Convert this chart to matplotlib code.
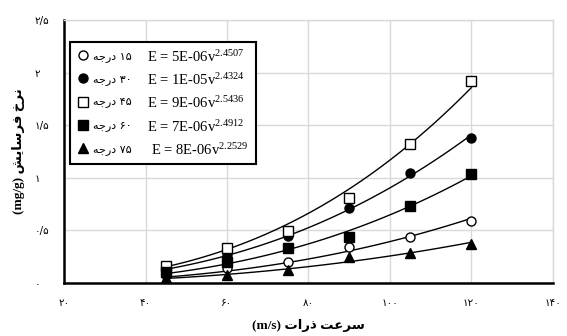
import re
import numpy as np
import matplotlib
matplotlib.use('agg')
import matplotlib.pyplot as plt
from matplotlib.lines import Line2D
from matplotlib.patches import Rectangle

## Data
speed = [45, 60, 75, 90, 105, 120]
rate_15 = [0.08, 0.14, 0.20, 0.34, 0.44, 0.59]
rate_30 = [0.12, 0.27, 0.45, 0.71, 1.05, 1.38]
rate_45 = [0.16, 0.33, 0.49, 0.81, 1.32, 1.92]
rate_60 = [0.10, 0.20, 0.33, 0.44, 0.73, 1.04]
rate_75 = [0.05, 0.08, 0.12, 0.25, 0.28, 0.37]

angles = ['۱۵', '۳۰', '۴۵', '۶۰', '۷۵']
coef_text = ['5E-06', '1E-05', '9E-06', '7E-06', '8E-06']
exponents = [2.4507, 2.4324, 2.5436, 2.4912, 2.2529]

x_ticks = [20, 40, 60, 80, 100, 120, 140]
x_labels = ['۲۰', '۴۰', '۶۰', '۸۰', '۱۰۰', '۱۲۰', '۱۴۰']
y_ticks = [0, 0.5, 1, 1.5, 2, 2.5]
y_labels = ['۰', '۰/۵', '۱', '۱/۵', '۲', '۲/۵']

x_title = 'سرعت ذرات (m/s)'
y_title = 'نرخ فرسایش (mg/g)'
deg_word = 'درجه'

"""
Tiny Persian shaper: presentation forms + right-to-left ordering
(matplotlib does no shaping on its own)
"""
FORMS = {
    'ا': ('\uFE8D', '\uFE8E', None, None),
    'ت': ('\uFE95', '\uFE96', '\uFE97', '\uFE98'),
    'ج': ('\uFE9D', '\uFE9E', '\uFE9F', '\uFEA0'),
    'خ': ('\uFEA5', '\uFEA6', '\uFEA7', '\uFEA8'),
    'د': ('\uFEA9', '\uFEAA', None, None),
    'ذ': ('\uFEAB', '\uFEAC', None, None),
    'ر': ('\uFEAD', '\uFEAE', None, None),
    'س': ('\uFEB1', '\uFEB2', '\uFEB3', '\uFEB4'),
    'ش': ('\uFEB5', '\uFEB6', '\uFEB7', '\uFEB8'),
    'ع': ('\uFEC9', '\uFECA', '\uFECB', '\uFECC'),
    'ف': ('\uFED1', '\uFED2', '\uFED3', '\uFED4'),
    'ن': ('\uFEE5', '\uFEE6', '\uFEE7', '\uFEE8'),
    'ه': ('\uFEE9', '\uFEEA', '\uFEEB', '\uFEEC'),
    'ی': ('\uFEEF', '\uFEF0', '\uFEF3', '\uFEF4'),
}


def shape(word):
    out = []
    for i, ch in enumerate(word):
        if ch not in FORMS:
            out.append(ch)
            continue
        prev = word[i - 1] if i > 0 else ''
        nxt = word[i + 1] if i + 1 < len(word) else ''
        j_prev = prev in FORMS and FORMS[prev][2] is not None
        j_next = FORMS[ch][2] is not None and nxt in FORMS
        iso, fin, ini, med = FORMS[ch]
        if j_prev and j_next:
            out.append(med)
        elif j_prev:
            out.append(fin)
        elif j_next:
            out.append(ini)
        else:
            out.append(iso)
    return ''.join(out)


def fa(text):
    # split into left-to-right runs (latin, digits) and the rest
    runs = re.findall(r'[A-Za-z0-9\u06F0-\u06F9/().]+|[^A-Za-z0-9\u06F0-\u06F9/().]+', text)
    vis = []
    for r in reversed(runs):
        if re.match(r'[A-Za-z0-9\u06F0-\u06F9/().]', r):
            vis.append(r)
        else:
            vis.append(shape(r)[::-1])
    return ''.join(vis)


plt.rcParams['mathtext.fontset'] = 'custom'
plt.rcParams['mathtext.rm'] = 'Liberation Serif'
plt.rcParams['mathtext.it'] = 'Liberation Serif:italic'
plt.rcParams['mathtext.default'] = 'rm'

fig = plt.figure(figsize=(5.67, 3.36), dpi=100)
ax = fig.add_axes([0.113, 0.158, 0.862, 0.782])

series = [rate_15, rate_30, rate_45, rate_60, rate_75]
markers = ['o', 'o', 's', 's', '^']
faces = ['white', 'black', 'white', 'black', 'black']

v = np.array(speed, dtype=float)
v_line = np.linspace(v.min(), v.max(), 100)
handles = []
for rate, b, m, fc in zip(series, exponents, markers, faces):
    r = np.array(rate)
    # trend line E = a v^b, exponent from the chart, coefficient fitted
    a = np.sum(r * v**b) / np.sum(v**(2 * b))
    ax.plot(v_line, a * v_line**b, color='black', lw=1.0, zorder=2)
    ax.plot(v, r, linestyle='none', marker=m, ms=6.5, mfc=fc, mec='black',
            mew=1.0, zorder=3)
    handles.append(Line2D([], [], linestyle='none', marker=m, ms=6.5, mfc=fc,
                          mec='black', mew=1.0))

ax.set_xlim(20, 140)
ax.set_ylim(0, 2.5)
ax.set_xticks(x_ticks)
ax.set_xticklabels(x_labels, family='DejaVu Sans', fontsize=7.5)
ax.set_yticks(y_ticks)
ax.set_yticklabels(y_labels, family='DejaVu Sans', fontsize=7.5, ha='left')
ax.tick_params(axis='x', length=0, pad=11)
ax.tick_params(axis='y', length=0, pad=21)
ax.grid(True, color='#d9d9d9', lw=1.0)
ax.set_axisbelow(True)
for s in ['top', 'right']:
    ax.spines[s].set_color('#d9d9d9')
    ax.spines[s].set_linewidth(1.0)
for s in ['left', 'bottom']:
    ax.spines[s].set_color('black')
    ax.spines[s].set_linewidth(1.8)

ax.set_xlabel(fa(x_title), family=['Liberation Serif', 'DejaVu Sans'],
              fontweight='bold', fontsize=9.5, labelpad=8)
ax.set_ylabel(fa(y_title), family=['Liberation Serif', 'DejaVu Sans'],
              fontweight='bold', fontsize=9.5, labelpad=7)

## Legend: markers + angle, equations to the right, one frame round both
leg = ax.legend(handles, [fa(ang + ' ' + deg_word) for ang in angles],
                loc='upper left', bbox_to_anchor=(0.012, 0.918),
                prop={'family': 'DejaVu Sans', 'size': 8}, frameon=False,
                handlelength=0.8, handletextpad=0.5,
                labelspacing=1.12, borderpad=0.8, borderaxespad=0)
leg.set_zorder(5)

eq_x = [0.170, 0.170, 0.170, 0.170, 0.177]
eq_texts = []
for txt, c, b, ex in zip(leg.get_texts(), coef_text, exponents, eq_x):
    eq_texts.append(ax.annotate('E = %sv$^{%.4f}$' % (c, b), xy=(ex, 0.5),
                                xycoords=(ax.transAxes, txt), va='center',
                                ha='left', family='Liberation Serif',
                                fontsize=10.5, zorder=6))

fig.canvas.draw()
r = fig.canvas.get_renderer()
lb = leg.get_window_extent(r)
right = max(t.get_window_extent(r).x1 for t in eq_texts) + 8
inv = ax.transAxes.inverted()
(x0, y0), (x1, y1) = inv.transform([(lb.x0, lb.y0), (right, lb.y1)])
ax.add_patch(Rectangle((x0, y0), x1 - x0, y1 - y0, transform=ax.transAxes,
                       facecolor='white', edgecolor='black', lw=1.5,
                       zorder=4))

fig.savefig('out.png', dpi=100)
